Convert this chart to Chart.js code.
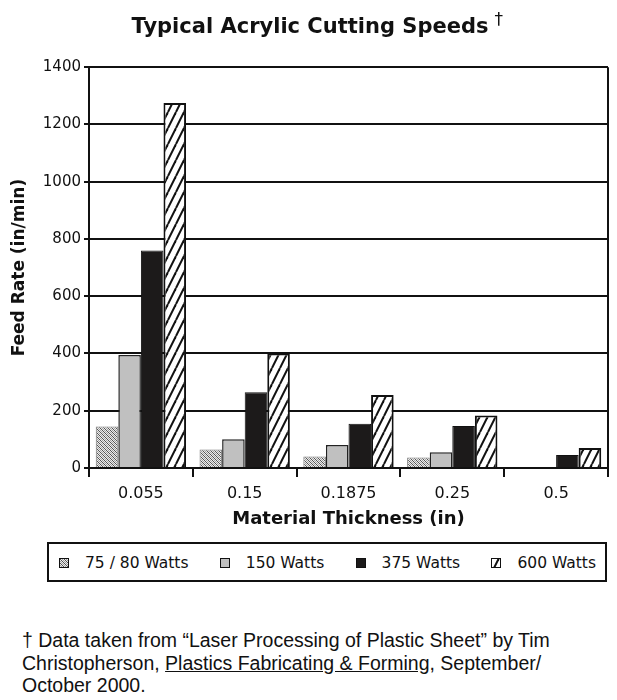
<!DOCTYPE html>
<html>
<head>
<meta charset="utf-8">
<script src="https://cdn.jsdelivr.net/npm/chart.js@4"></script>
<style>
  body { margin: 0; background: #fff; }
  #wrap { position: relative; width: 617px; height: 700px; }
  #cv { position: absolute; left: 0; top: 0; }
  #leyenda {
    position: absolute; left: 47px; top: 542px; width: 560px; height: 40px;
    box-sizing: border-box; border: 2px solid #111;
    display: flex; align-items: center; justify-content: space-between;
    padding: 2px 9px 0 10px;
    font-family: "DejaVu Sans"; font-size: 15.5px; color: #111;
  }
  .item { display: flex; align-items: center; }
  .item canvas { width: 10px; height: 10px; margin-right: 16px; }
  #nota {
    position: absolute; left: 22px; top: 629px;
    font-family: "Liberation Sans", Arial; font-size: 19.5px; line-height: 22.5px; color: #111;
  }
</style>
</head>
<body>
<div id="wrap">
  <canvas id="cv" width="617" height="540"></canvas>
  <div id="leyenda"></div>
  <div id="nota">† Data taken from “Laser Processing of Plastic Sheet” by Tim<br>Christopherson, <u>Plastics Fabricating &amp; Forming</u>, September/<br>October 2000.</div>
</div>
<script>
// datos
var espesores = ['0.055', '0.15', '0.1875', '0.25', '0.5']
var series = ['75 / 80 Watts', '150 Watts', '375 Watts', '600 Watts']
var w75 = [145, 65, 40, 37, null]
var w150 = [395, 100, 80, 55, null]
var w375 = [760, 265, 155, 147, 45]
var w600 = [1275, 400, 255, 183, 70]
var ticks_y = [0, 200, 400, 600, 800, 1000, 1200, 1400]

function patron_puntos() {
    var c = document.createElement('canvas')
    c.width = 4; c.height = 4
    var x = c.getContext('2d')
    x.fillStyle = '#ececec'
    x.fillRect(0, 0, 4, 4)
    for (var i = 0; i < 4; i++) {
        x.fillStyle = '#555'
        x.fillRect(i, i, 1, 1)
        x.fillStyle = '#a0a0a0'
        x.fillRect(i, (i + 2) % 4, 1, 1)
    }
    return c
}
function patron_rayas() {
    var c = document.createElement('canvas')
    c.width = 8; c.height = 16
    var x = c.getContext('2d')
    x.fillStyle = '#fff'
    x.fillRect(0, 0, 8, 16)
    x.strokeStyle = '#111'
    x.lineWidth = 2
    ;[-8, 0, 8].forEach(function (d) {
        x.beginPath()
        x.moveTo(d, 16)
        x.lineTo(d + 8, 0)
        x.stroke()
    })
    return c
}

var cv = document.getElementById('cv')
var ctx = cv.getContext('2d')
var relleno75 = ctx.createPattern(patron_puntos(), 'repeat')
var relleno600 = ctx.createPattern(patron_rayas(), 'repeat')

var estilos = [
    { fondo: relleno75, borde: '#777', ancho: 1 },
    { fondo: '#c0c0c0', borde: '#222', ancho: 1.5 },
    { fondo: '#1c1a1a', borde: '#111', ancho: 1 },
    { fondo: relleno600, borde: '#111', ancho: 2 }
]
var valores = [w75, w150, w375, w600]

// leyenda en html
var leyenda = document.getElementById('leyenda')
series.forEach(function (s, i) {
    var item = document.createElement('div')
    item.className = 'item'
    var m = document.createElement('canvas')
    m.width = 10; m.height = 10
    var mc = m.getContext('2d')
    mc.fillStyle = mc.createPattern(i == 0 ? patron_puntos() : patron_rayas(), 'repeat')
    if (i == 1 || i == 2) mc.fillStyle = estilos[i].fondo
    mc.fillRect(0, 0, 10, 10)
    mc.strokeStyle = '#111'
    mc.lineWidth = 2
    mc.strokeRect(0, 0, 10, 10)
    item.appendChild(m)
    var t = document.createElement('span')
    t.innerText = s
    item.appendChild(t)
    leyenda.appendChild(item)
})

var marco = {
    id: 'marco',
    afterDraw: function (chart) {
        var a = chart.chartArea, c = chart.ctx
        c.save()
        c.strokeStyle = '#111'
        c.lineWidth = 2
        c.beginPath()
        c.moveTo(a.right, a.top)
        c.lineTo(a.right, a.bottom)
        c.stroke()
        // daga del titulo
        var t = chart.titleBlock
        c.font = 'bold 21px "DejaVu Sans"'
        var w = c.measureText(chart.options.plugins.title.text).width
        c.font = '17px "DejaVu Sans"'
        c.fillStyle = '#111'
        c.textBaseline = 'middle'
        c.fillText('†', (t.left + t.right) / 2 + w / 2 + 6, t.top + 15 + 6)
        c.restore()
    }
}

Chart.defaults.font.family = '"DejaVu Sans"'
Chart.defaults.color = '#111'

new Chart(cv, {
    type: 'bar',
    data: {
        labels: espesores,
        datasets: series.map(function (s, i) {
            return {
                label: s,
                data: valores[i],
                backgroundColor: estilos[i].fondo,
                borderColor: estilos[i].borde,
                borderWidth: estilos[i].ancho,
                categoryPercentage: 0.87,
                barPercentage: 1
            }
        })
    },
    options: {
        responsive: false,
        animation: false,
        devicePixelRatio: 1,
        layout: { padding: { left: 12, right: 9, top: 0, bottom: 0 } },
        plugins: {
            legend: { display: false },
            tooltip: { enabled: false },
            title: {
                display: true,
                text: 'Typical Acrylic Cutting Speeds',
                font: { size: 21, weight: 'bold' },
                color: '#111',
                padding: { top: 15, bottom: 27 }
            }
        },
        scales: {
            x: {
                afterFit: function (s) { s.height = 72 },
                grid: { drawOnChartArea: false, drawTicks: true, tickLength: 9, color: '#111', lineWidth: 2 },
                border: { display: true, color: '#111', width: 2 },
                ticks: { font: { size: 16 }, padding: 7, color: '#111', maxRotation: 0 },
                title: {
                    display: true, text: 'Material Thickness (in)',
                    font: { size: 18, weight: 'bold' }, color: '#111',
                    padding: { top: 0, bottom: 10 }
                }
            },
            y: {
                min: 0, max: 1400,
                afterFit: function (s) { s.width = 77 },
                afterBuildTicks: function (s) { s.ticks = ticks_y.map(function (v) { return { value: v } }) },
                grid: { color: '#111', lineWidth: 2, tickLength: 5 },
                border: { display: true, color: '#111', width: 2 },
                ticks: {
                    font: { size: 15 }, padding: 3, color: '#111',
                    callback: function (v) { return String(v) }
                },
                title: {
                    display: true, text: 'Feed Rate (in/min)',
                    font: { size: 17, weight: 'bold' }, color: '#111',
                    padding: { top: -3, bottom: 0 }
                }
            }
        }
    },
    plugins: [marco]
})
</script>
</body>
</html>
